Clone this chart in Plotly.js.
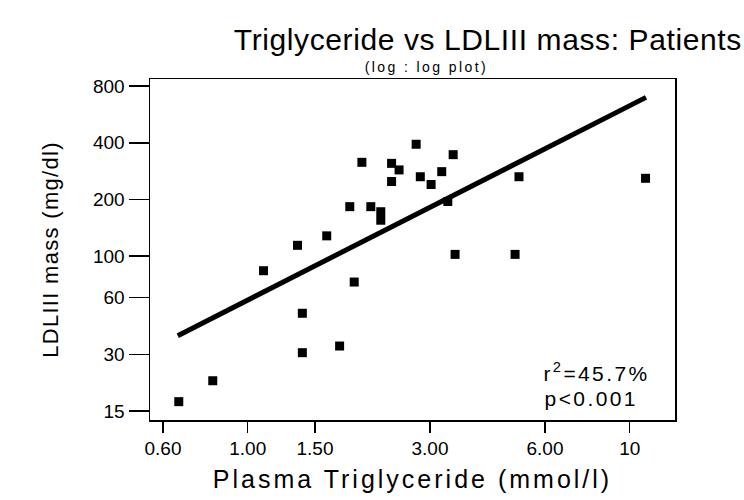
<!DOCTYPE html>
<html><head><meta charset="utf-8">
<script src="https://cdn.plot.ly/plotly-3.0.1.min.js"></script>
<style>
html,body{margin:0;padding:0;background:#fff}
#chart{width:744px;height:500px}
#chart .gtitle{letter-spacing:0.6px}
#chart .xtitle{letter-spacing:3px}
#chart .ytitle{letter-spacing:1.3px}
#chart .annotation-text{letter-spacing:2.4px}
</style>
</head><body><div id="chart"></div>
<script>
// Patients: plasma triglyceride (mmol/l) vs LDLIII mass (mg/dl)
const triglyceride = [0.66, 0.81, 1.10, 1.35, 1.39, 1.39, 1.61, 1.74, 1.90, 1.85, 1.99, 2.10, 2.23, 2.23, 2.38, 2.38, 2.49, 2.76, 2.83, 3.02, 3.22, 3.34, 3.45, 3.49, 5.01, 5.13, 11.0];
const ldl3Mass    = [16.8, 21.7, 83.5, 114, 49.6, 30.6, 128, 33.2, 72.7, 183, 315, 183, 172, 155, 249, 311, 287, 393, 264, 240, 281, 195, 346, 102, 102, 264, 259];
// regression line end points (log : log)
const fitX = [0.656, 11.03];
const fitY = [37.7, 698];
const xTickVals = [0.6, 1, 1.5, 3, 6, 10];
const xTickText = ['0.60', '1.00', '1.50', '3.00', '6.00', '10'];
const yTickVals = [15, 30, 60, 100, 200, 400, 800];
const yTickText = ['15', '30', '60', '100', '200', '400', '800'];
const statsText = ['r<sup>2</sup>=45.7%', 'p<0.001'];

const FONT = 'Liberation Sans, Arial, Helvetica, sans-serif';

const traces = [
  {
    x: triglyceride, y: ldl3Mass, type: 'scatter', mode: 'markers',
    marker: {symbol: 'square', size: 9, color: '#000'},
    hoverinfo: 'x+y', showlegend: false
  },
  {
    x: fitX, y: fitY, type: 'scatter', mode: 'lines',
    line: {color: '#000', width: 5}, hoverinfo: 'skip', showlegend: false
  }
];

const axisCommon = {
  type: 'log', showgrid: false, zeroline: false,
  showline: true, linecolor: '#000', linewidth: 1.5, mirror: true,
  ticks: 'outside', tickcolor: '#000', tickwidth: 1.5,
  tickfont: {family: FONT, size: 19, color: '#000'}
};

const layout = {
  width: 744, height: 500,
  paper_bgcolor: '#fff', plot_bgcolor: '#fff',
  margin: {l: 150, r: 69, t: 79, b: 80},
  title: {
    text: 'Triglyceride vs LDLIII mass: Patients',
    font: {family: FONT, size: 30, color: '#000'},
    xref: 'container', x: 0.997, xanchor: 'right',
    yref: 'container', y: 0.922, yanchor: 'middle'
  },
  xaxis: Object.assign({}, axisCommon, {
    range: [-0.2558, 1.1185],
    tickvals: xTickVals, ticktext: xTickText, ticklen: 11,
    title: {text: 'Plasma Triglyceride (mmol/l)', font: {family: FONT, size: 25, color: '#000'}, standoff: 12}
  }),
  yaxis: Object.assign({}, axisCommon, {
    range: [1.1277, 2.9415],
    tickvals: yTickVals, ticktext: yTickText, ticklen: 20,
    title: {text: 'LDLIII mass (mg/dl)', font: {family: FONT, size: 22, color: '#000'}, standoff: 28}
  }),
  annotations: [
    {text: '(log : log plot)', xref: 'paper', yref: 'paper', x: 0.526, y: 1.035, yanchor: 'middle', xanchor: 'center',
     showarrow: false, font: {family: FONT, size: 14, color: '#000'}},
    {text: statsText[0], xref: 'paper', yref: 'paper', x: 0.764, y: 0.14, xanchor: 'left', yanchor: 'middle',
     showarrow: false, font: {family: FONT, size: 21, color: '#000'}},
    {text: statsText[1], xref: 'paper', yref: 'paper', x: 0.764, y: 0.062, xanchor: 'left', yanchor: 'middle',
     showarrow: false, font: {family: FONT, size: 21, color: '#000'}}
  ]
};

Plotly.newPlot('chart', traces, layout, {displayModeBar: false, staticPlot: true});
</script>
</body></html>
